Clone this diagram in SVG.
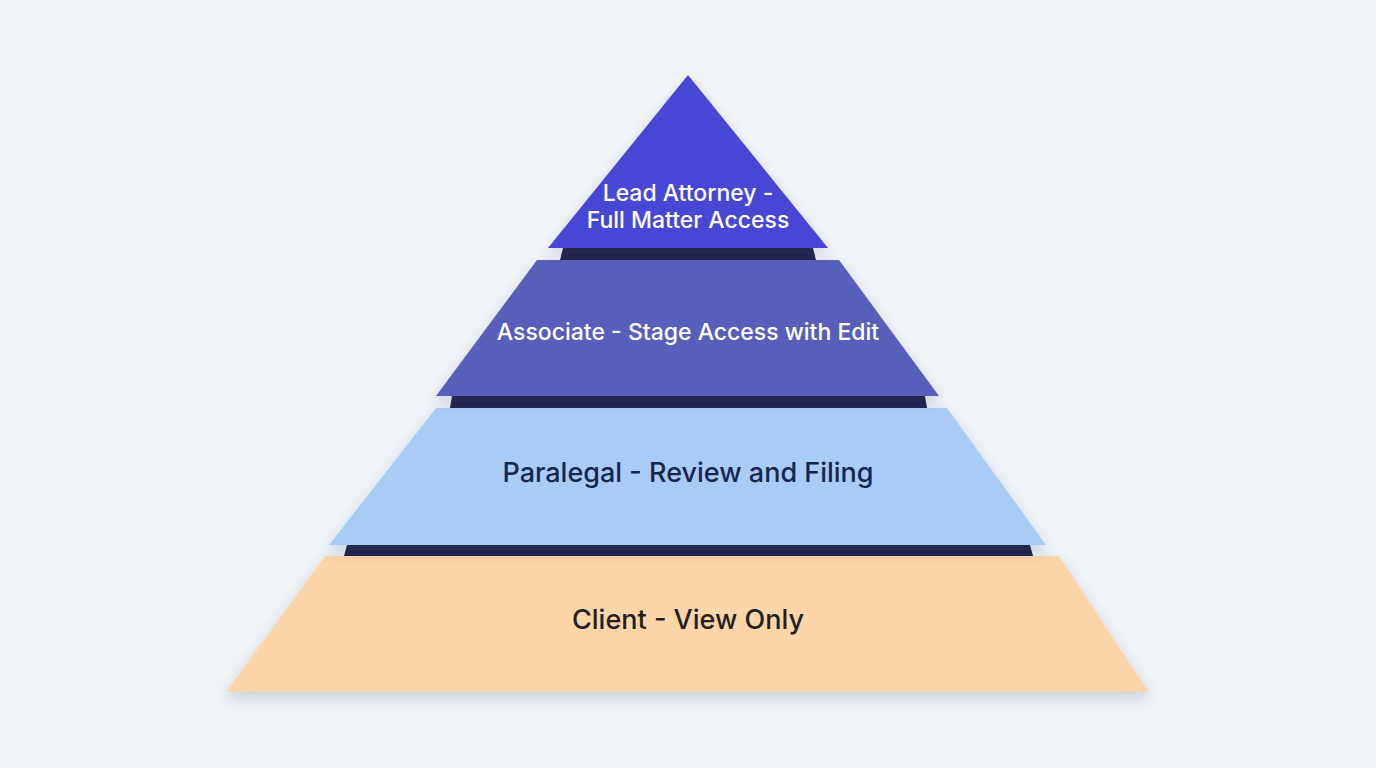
<svg xmlns="http://www.w3.org/2000/svg" width="1376" height="768" viewBox="0 0 1376 768">
  <defs>
    <linearGradient id="bg" x1="0" y1="0" x2="0" y2="1">
      <stop offset="0" stop-color="#F1F5F9"/>
      <stop offset="1" stop-color="#EEF3F8"/>
    </linearGradient>
    <filter id="sh" x="-20%" y="-20%" width="140%" height="150%">
      <feDropShadow dx="0" dy="6" stdDeviation="7" flood-color="#1e2a4a" flood-opacity="0.18"/>
    </filter>
  </defs>
  <style>
    .lbl { font-family: Inter, "Liberation Sans", sans-serif; text-anchor: middle; font-weight: 500; }
    .light { fill: #FFFFFF; font-size: 23px; }
    .dark1 { fill: #15264D; font-size: 27px; }
    .dark2 { fill: #241F22; font-size: 27px; }
    .band { fill: #22264F; }
  </style>
  <rect width="1376" height="768" fill="url(#bg)"/>

  <g id="tier-client">
    <polygon points="325,556 1059,556 1149,692 226,692" fill="#FCD6A8" filter="url(#sh)"/>
    <text class="lbl dark2" x="688" y="629">Client - View Only</text>
  </g>
  <polygon class="band" points="347,545 1030,545 1033,556 344,556"/>

  <g id="tier-paralegal">
    <polygon points="436,408 947,408 1046,545 329,545" fill="#A9CCF6" filter="url(#sh)"/>
    <text class="lbl dark1" x="688" y="482">Paralegal - Review and Filing</text>
  </g>
  <polygon class="band" points="452,396 925,396 927,408 450,408"/>

  <g id="tier-associate">
    <polygon points="537,260 839,260 939,396 436,396" fill="#5660BA" filter="url(#sh)"/>
    <text class="lbl light" x="688" y="340">Associate - Stage Access with Edit</text>
  </g>
  <polygon class="band" points="563,248 813,248 816,260 560,260"/>

  <g id="tier-lead-attorney">
    <polygon points="688,75 828,248 548,248" fill="#4646D6" filter="url(#sh)"/>
    <text class="lbl light" x="688" y="201">Lead Attorney -</text>
    <text class="lbl light" x="688" y="228">Full Matter Access</text>
  </g>
</svg>
